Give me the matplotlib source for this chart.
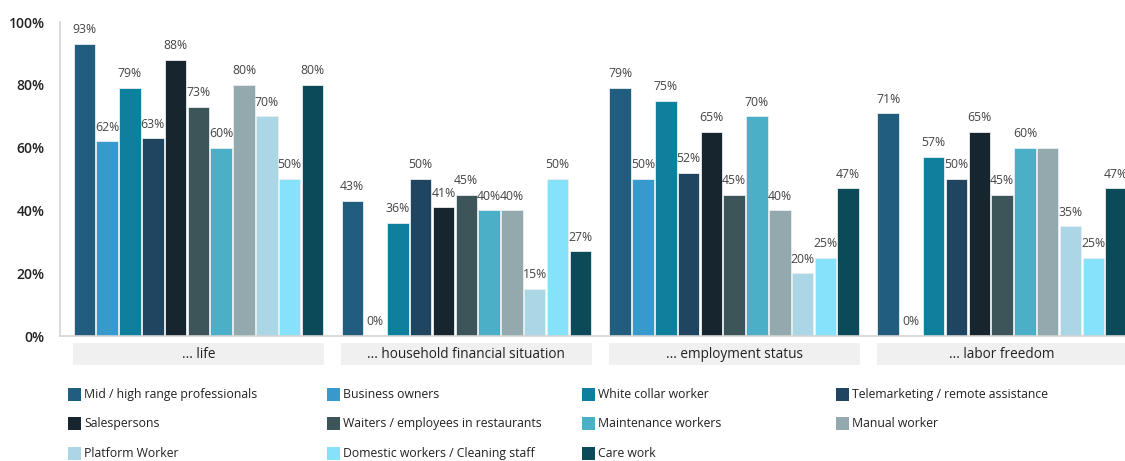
import matplotlib
matplotlib.use("Agg")
import matplotlib.pyplot as plt
from matplotlib.patches import Rectangle
import matplotlib.transforms as mtransforms

plt.rcParams['font.family'] = ['Open Sans', 'DejaVu Sans']

groups = ["... life", "... household financial situation", "... employment status", "... labor freedom"]
series = ["Mid / high range professionals", "Business owners", "White collar worker",
          "Telemarketing / remote assistance", "Salespersons", "Waiters / employees in restaurants",
          "Maintenance workers", "Manual worker", "Platform Worker",
          "Domestic workers / Cleaning staff", "Care work"]
colors = ["#215d7e", "#3899cc", "#0e7f9d", "#1f4560", "#16252e", "#3d5559",
          "#4bafc8", "#93a9ad", "#aad6e6", "#86e2fb", "#0a4a59"]

# values per group, one entry per series
life = [93, 62, 79, 63, 88, 73, 60, 80, 70, 50, 80]
household = [43, 0, 36, 50, 41, 45, 40, 40, 15, 50, 27]
employment = [79, 50, 75, 52, 65, 45, 70, 40, 20, 25, 47]
labor = [71, 0, 57, 50, 65, 45, 60, 60, 35, 25, 47]
values = [life, household, employment, labor]
# labels hidden in the original (overlap)
hidden = {(3, 7)}

yticks = [0, 20, 40, 60, 80, 100]

W, H = 1125, 461
fig = plt.figure(figsize=(W / 100, H / 100), dpi=100)
ax = fig.add_axes([60 / W, (H - 336) / H, 1065 / W, 314 / H])

gstep = 11.75
for gi, vals in enumerate(values):
    for si, v in enumerate(vals):
        x = gi * gstep + si
        ax.bar(x, v, width=0.94, color=colors[si], edgecolor="#e8eef0", linewidth=0.6, zorder=2)
        if (gi, si) not in hidden:
            ax.text(x, v + 2.4, f"{v}%", ha="center", va="bottom", fontsize=8.8,
                    color="#444444", clip_on=False)

ax.set_xlim(-1.07, 45.64)
ax.set_ylim(0, 100)
ax.set_yticks(yticks)
ax.set_yticklabels([f"{t}%" for t in yticks], fontsize=10, color="#222222", fontweight="semibold")
ax.tick_params(axis="y", length=0, pad=11)
ax.set_xticks([])
for s in ["top", "right"]:
    ax.spines[s].set_visible(False)
for s in ["left", "bottom"]:
    ax.spines[s].set_color("#d4d4d4")
    ax.spines[s].set_linewidth(1.2)

# group label boxes below the axis
trans = mtransforms.blended_transform_factory(ax.transData, ax.transAxes)
box_top = -7 / 314
box_h = 22 / 314
for gi, g in enumerate(groups):
    x0 = gi * gstep - 0.5
    ax.add_patch(Rectangle((x0, box_top - box_h), 11.0, box_h, transform=trans,
                           facecolor="#f0f0f0", edgecolor="none", clip_on=False))
    ax.text(x0 + 5.5, box_top - box_h / 2, g, transform=trans, ha="center", va="center",
            fontsize=9.8, color="#222222", clip_on=False)

# legend laid out row-wise in four columns
col_x = [68, 327, 582, 836]
row_y = [394, 423, 453]
for i, (name, c) in enumerate(zip(series, colors)):
    cx = col_x[i % 4]
    cy = row_y[i // 4]
    fig.patches.append(Rectangle((cx / W, (H - cy - 6.5) / H), 13 / W, 13 / H,
                                 transform=fig.transFigure, facecolor=c, edgecolor="none"))
    fig.text((cx + 16) / W, (H - cy) / H, name, ha="left", va="center",
             fontsize=8.8, color="#222222")

fig.savefig("out.png", dpi=100)
